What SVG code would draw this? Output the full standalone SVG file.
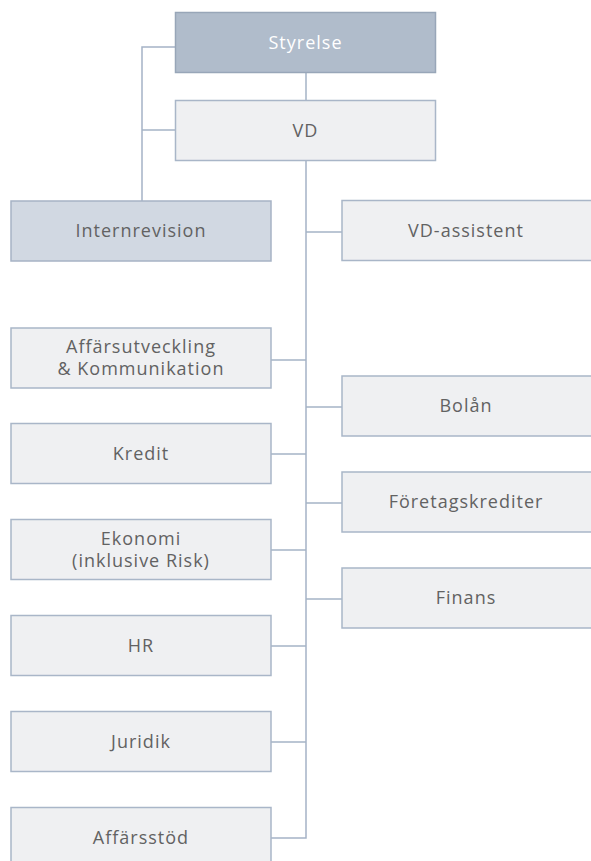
<svg xmlns="http://www.w3.org/2000/svg" width="591" height="861" viewBox="0 0 591 861">
<style>
  .box { fill: #eff0f2; stroke: #a9b6c8; stroke-width: 1.5; }
  .dark { fill: #b0bccb; stroke: #98a6b8; stroke-width: 1.5; }
  .mid { fill: #d1d8e2; stroke: #a6b3c5; stroke-width: 1.5; }
  .lbl { font-family: "Open Sans", "Noto Sans", sans-serif; font-size: 18px; letter-spacing: 1px; fill: #626262; text-anchor: middle; }
  .wh { fill: #ffffff; }
  .ln { fill: none; stroke: #a5b3c6; stroke-width: 1.5; }
</style>
<rect width="591" height="861" fill="#ffffff"/>
<g id="connectors">
  <path class="ln" d="M175 47 H142 V201"/>
  <path class="ln" d="M175 130 H142"/>
  <path class="ln" d="M306 72 V100"/>
  <path class="ln" d="M306 160 V838 H271"/>
  <path class="ln" d="M306 232 H342"/>
  <path class="ln" d="M306 407 H342"/>
  <path class="ln" d="M306 503 H342"/>
  <path class="ln" d="M306 599 H342"/>
  <path class="ln" d="M271 360 H306"/>
  <path class="ln" d="M271 454 H306"/>
  <path class="ln" d="M271 550 H306"/>
  <path class="ln" d="M271 646 H306"/>
  <path class="ln" d="M271 742 H306"/>
</g>
<g id="styrelse">
  <rect class="dark" x="175.5" y="12.5" width="260" height="60"/>
  <text class="lbl wh" x="305.5" y="48.5">Styrelse</text>
</g>
<g id="vd">
  <rect class="box" x="175.5" y="100.5" width="260" height="60"/>
  <text class="lbl" x="305.5" y="136.5">VD</text>
</g>
<g id="internrevision">
  <rect class="mid" x="11" y="201" width="260" height="60"/>
  <text class="lbl" x="141" y="237">Internrevision</text>
</g>
<g id="vd-assistent">
  <rect class="box" x="342" y="200.5" width="260" height="60"/>
  <text class="lbl" x="466" y="237">VD-assistent</text>
</g>
<g id="affarsutveckling">
  <rect class="box" x="11" y="328" width="260" height="60"/>
  <text class="lbl" x="141" y="353">Affärsutveckling</text>
  <text class="lbl" x="141" y="375">&amp; Kommunikation</text>
</g>
<g id="bolan">
  <rect class="box" x="342" y="376" width="260" height="60"/>
  <text class="lbl" x="466" y="412">Bolån</text>
</g>
<g id="kredit">
  <rect class="box" x="11" y="423.5" width="260" height="60"/>
  <text class="lbl" x="141" y="460">Kredit</text>
</g>
<g id="foretagskrediter">
  <rect class="box" x="342" y="472" width="260" height="60"/>
  <text class="lbl" x="466" y="508">Företagskrediter</text>
</g>
<g id="ekonomi">
  <rect class="box" x="11" y="519.5" width="260" height="60"/>
  <text class="lbl" x="141" y="545">Ekonomi</text>
  <text class="lbl" x="141" y="567">(inklusive Risk)</text>
</g>
<g id="finans">
  <rect class="box" x="342" y="568" width="260" height="60"/>
  <text class="lbl" x="466" y="604">Finans</text>
</g>
<g id="hr">
  <rect class="box" x="11" y="615.5" width="260" height="60"/>
  <text class="lbl" x="141" y="652">HR</text>
</g>
<g id="juridik">
  <rect class="box" x="11" y="711.5" width="260" height="60"/>
  <text class="lbl" x="141" y="748">Juridik</text>
</g>
<g id="affarsstod">
  <rect class="box" x="11" y="807.5" width="260" height="60"/>
  <text class="lbl" x="141" y="844">Affärsstöd</text>
</g>
</svg>
